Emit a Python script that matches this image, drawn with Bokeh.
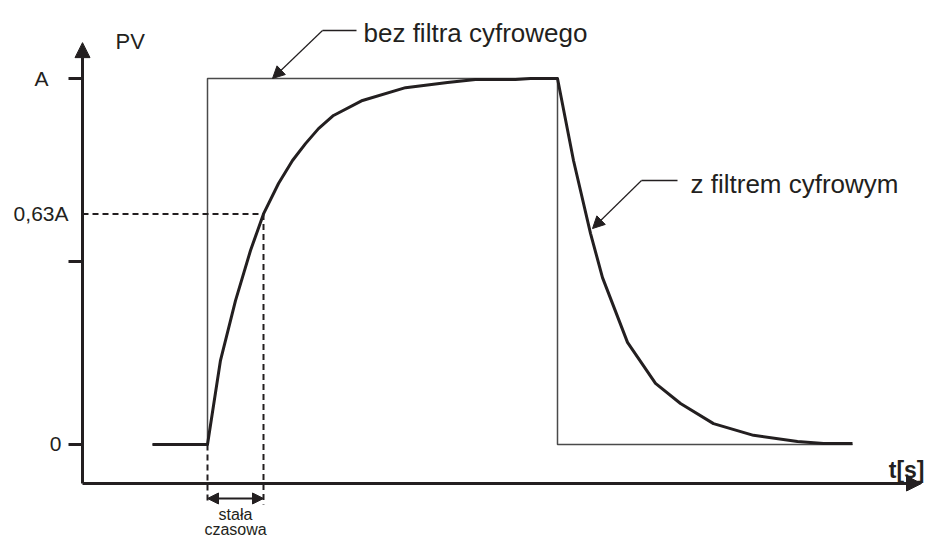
from bokeh.plotting import figure
from bokeh.models import Range1d, Arrow, NormalHead
from bokeh.core.properties import value
from bokeh.embed import file_html
from bokeh.resources import INLINE
import numpy as np

# ---- data (time in s, PV as fraction of A) ----
t_step = [2.8, 5.0, 5.0, 19.0, 19.0, 30.8]
pv_step = [0, 0, 1, 1, 0, 0]

t_filt = [2.8, 5.0, 5.52, 6.12, 6.72, 7.24, 7.84, 8.4, 8.92, 9.44, 10.04, 11.2,
          12.92, 14.6, 15.72, 17.32, 17.92, 19.0, 19.64, 20.32, 20.8, 21.8,
          22.92, 23.92, 25.24, 26.84, 28.6, 29.64, 30.8]
pv_filt = [0, 0, 0.23, 0.393, 0.53, 0.63, 0.713, 0.776, 0.822, 0.863, 0.899, 0.94,
           0.975, 0.989, 0.997, 0.997, 1.0, 1.0, 0.776, 0.577, 0.456, 0.279,
           0.167, 0.112, 0.057, 0.025, 0.008, 0.003, 0.003]

y_ticks = [0, 0.5, 1]
tick_label_values = [0, 0.63, 1]
tick_label_texts = ["0", "0,63A", "A"]
tau_level = 0.63

INK = "#231f20"
FONT = value("Liberation Sans")

p = figure(width=925, height=539,
           x_range=Range1d(-3.28, 33.72), y_range=Range1d(-0.2596, 1.2131),
           x_axis_type=None, y_axis_type=None,
           toolbar_location=None, output_backend="svg",
           min_border=0, outline_line_color=None,
           background_fill_color="white", border_fill_color="white")

# axes drawn as arrows
axis_y = -0.1066
p.add_layout(Arrow(end=NormalHead(size=15, fill_color=INK, line_color=INK, line_width=1),
                   x_start=0, y_start=axis_y, x_end=0, y_end=1.098,
                   line_width=3, line_color=INK))
p.add_layout(Arrow(end=NormalHead(size=15, fill_color=INK, line_color=INK, line_width=1),
                   x_start=0, y_start=axis_y, x_end=33.56, y_end=axis_y,
                   line_width=3, line_color=INK))

# ticks
p.segment(x0=[-0.56] * len(y_ticks), y0=y_ticks, x1=[0] * len(y_ticks), y1=y_ticks,
          line_width=3, line_color=INK)

# tick labels
label_x = [-0.84, -0.56, -1.36]
p.text(x=label_x, y=tick_label_values, text=tick_label_texts,
       text_font=FONT, text_font_size="21px", text_color=INK,
       text_align="right", text_baseline="middle")

# series
p.line(t_step, pv_step, line_width=1.5, line_color="#4a4a4a")
p.line(t_filt, pv_filt, line_width=3, line_color=INK, line_join="round")

# time constant construction
t_on = t_step[1]
tau = float(np.interp(tau_level, pv_filt[1:9], t_filt[1:9]))
p.line([0, tau], [tau_level, tau_level], line_dash="6 4", line_width=2, line_color=INK)
p.line([tau, tau], [tau_level, -0.164], line_dash="6 4", line_width=2, line_color=INK)
p.line([t_on, t_on], [0, -0.164], line_dash="6 4", line_width=2, line_color=INK)
p.add_layout(Arrow(start=NormalHead(size=11, fill_color=INK, line_color=INK, line_width=1),
                   end=NormalHead(size=11, fill_color=INK, line_color=INK, line_width=1),
                   x_start=t_on, y_start=-0.1475, x_end=tau, y_end=-0.1475,
                   line_width=2, line_color=INK))
p.text(x=[(t_on + tau) / 2, (t_on + tau) / 2], y=[-0.1913, -0.2322],
       text=["stała", "czasowa"], text_font=FONT, text_font_size="16px",
       text_color=INK, text_align="center", text_baseline="alphabetic")

# callouts
p.line([9.6, 10.96], [1.131, 1.131], line_width=1.5, line_color=INK)
p.add_layout(Arrow(end=NormalHead(size=12, fill_color=INK, line_color=INK, line_width=1),
                   x_start=9.6, y_start=1.131, x_end=7.6, y_end=1.0,
                   line_width=1.2, line_color=INK))
p.line([22.36, 23.8], [0.7213, 0.7213], line_width=1.5, line_color=INK)
p.add_layout(Arrow(end=NormalHead(size=12, fill_color=INK, line_color=INK, line_width=1),
                   x_start=22.36, y_start=0.7213, x_end=20.4, y_end=0.59,
                   line_width=1.2, line_color=INK))

p.text(x=[11.24, 24.32], y=[1.123, 0.713],
       text=["bez filtra cyfrowego", "z filtrem cyfrowym"],
       text_font=FONT, text_font_size="26px", text_color=INK,
       text_align="left", text_baseline="alphabetic")

p.text(x=[1.32], y=[1.101], text=["PV"], text_font=FONT, text_font_size="22px",
       text_color=INK, text_align="left", text_baseline="middle")

p.text(x=[33.68], y=[-0.071], text=["t[s]"], text_font=FONT, text_font_size="23px",
       text_font_style="bold", text_color=INK, text_align="right",
       text_baseline="alphabetic")

open("out.html", "w").write(file_html(p, INLINE))
